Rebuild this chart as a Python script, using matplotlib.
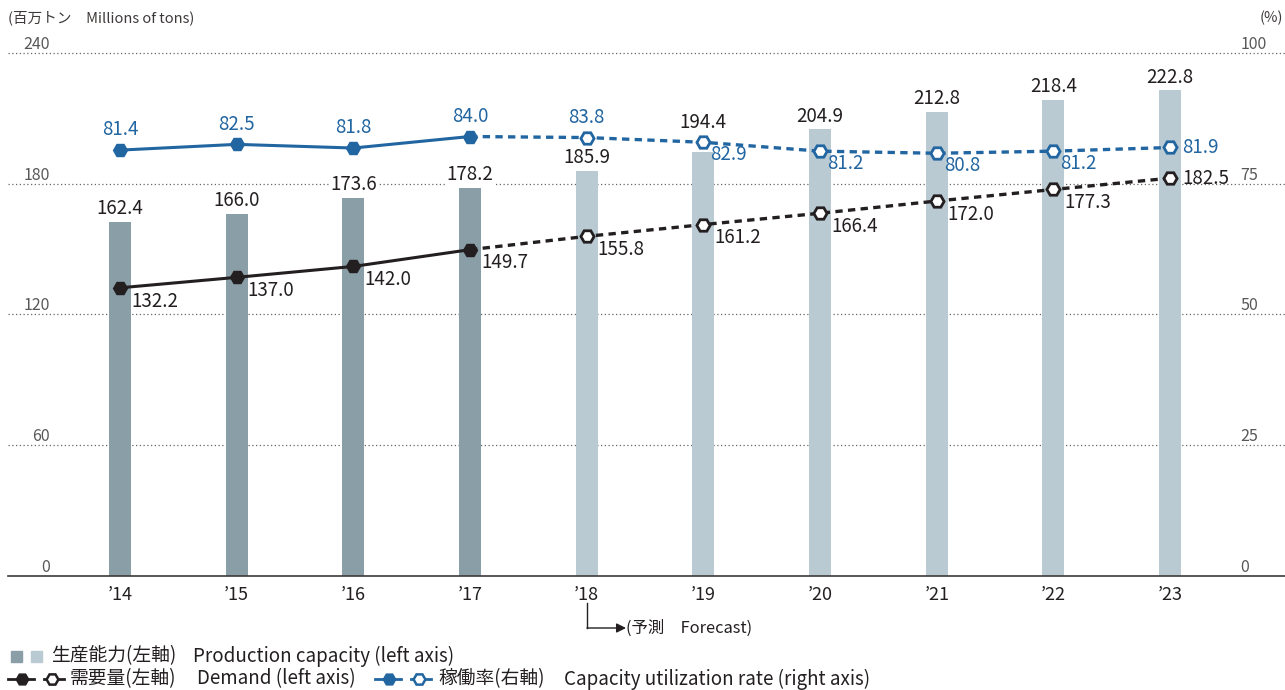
import matplotlib
matplotlib.use("Agg")
import matplotlib.pyplot as plt
from matplotlib.lines import Line2D
from matplotlib.patches import Rectangle, FancyArrowPatch
import matplotlib.transforms as mtransforms

plt.rcParams["font.family"] = ["Noto Sans CJK JP", "DejaVu Sans"]

# data
years = ["’14", "’15", "’16", "’17", "’18", "’19", "’20", "’21", "’22", "’23"]
capacity = [162.4, 166.0, 173.6, 178.2, 185.9, 194.4, 204.9, 212.8, 218.4, 222.8]
demand = [132.2, 137.0, 142.0, 149.7, 155.8, 161.2, 166.4, 172.0, 177.3, 182.5]
util = [81.4, 82.5, 81.8, 84.0, 83.8, 82.9, 81.2, 80.8, 81.2, 81.9]
n_actual = 4  # '14-'17 actual, rest forecast
left_ticks = [0, 60, 120, 180, 240]
right_ticks = [0, 25, 50, 75, 100]

W, H = 1285, 690
dark_bar = "#8a9ea8"
light_bar = "#b9cad3"
blue = "#2165a1"
black = "#231f20"
gray = "#595757"
fs_data = 13.5

fig = plt.figure(figsize=(W / 100, H / 100), dpi=100)


def px(x, y):
    return x / W, 1 - y / H


ax_l, ax_b = 8 / W, (H - 576) / H
ax = fig.add_axes([ax_l, ax_b, 1277 / W, (576 - 40) / H])
ymax = (576 - 40) / 2.18
ax.set_ylim(0, ymax)
ax.set_xlim(-0.96, 9.985)
ax2 = ax.twinx()
ax2.set_ylim(0, ymax / 2.4)

for a in (ax, ax2):
    for s in ("top", "left", "right"):
        a.spines[s].set_visible(False)
    a.set_yticks([])
ax2.spines["bottom"].set_visible(False)
ax.spines["bottom"].set_color("#3e3a39")
ax.spines["bottom"].set_linewidth(1.2)

x = list(range(len(years)))
ax.set_xticks(x, years, fontsize=13, color=black)
ax.tick_params(axis="x", length=0, pad=7)

# gridlines and y tick labels
blend = mtransforms.blended_transform_factory(ax.transAxes, ax.transData)
for t in left_ticks[1:]:
    ax.axhline(t, color="#666", lw=0.9, ls=(0, (1, 2)), zorder=1)
for t in left_ticks:
    ax.text(0.033, t, str(t), transform=blend, ha="right", va="bottom",
            fontsize=11.5, color=gray)
for t in right_ticks:
    ax.text(0.965, t * 2.4, str(t), transform=blend, ha="left", va="bottom",
            fontsize=11.5, color=gray)

# bars
colors = [dark_bar] * n_actual + [light_bar] * (len(years) - n_actual)
ax.bar(x, capacity, width=0.19, color=colors, zorder=2)
box = dict(facecolor="white", edgecolor="none", pad=1)
for xi, v in zip(x, capacity):
    lift = 14 if xi == 5 else 2
    ax.annotate(f"{v:.1f}", (xi, v), xytext=(0, lift), textcoords="offset points",
                ha="center", va="bottom", fontsize=fs_data, color=black,
                bbox=box, zorder=3)

# lines
util_s = [u * 2.4 for u in util]
k = n_actual
for ys, col in ((demand, black), (util_s, blue)):
    ax.plot(x[:k], ys[:k], color=col, lw=2.2, zorder=4)
    ax.plot(x[k - 1:], ys[k - 1:], color=col, lw=2.4, ls=(0, (2.2, 1.6)), zorder=4)
    ax.plot(x[:k], ys[:k], ls="none", marker="H", ms=10, color=col, zorder=5)
    ax.plot(x[k:], ys[k:], ls="none", marker="H", ms=9.5, mfc="white",
            mec=col, mew=2, zorder=5)

for i, v in enumerate(demand):
    if i == len(demand) - 1:
        ax.annotate(f"{v:.1f}", (i, v), xytext=(9, 0), textcoords="offset points",
                    ha="left", va="center", fontsize=fs_data, color=black, zorder=3)
    else:
        ax.annotate(f"{v:.1f}", (i, v), xytext=(8, -2), textcoords="offset points",
                    ha="left", va="top", fontsize=fs_data, color=black, zorder=3)

for i, v in enumerate(util):
    y = util_s[i]
    if i <= 4:
        ax.annotate(f"{v:.1f}", (i, y), xytext=(0, 7), textcoords="offset points",
                    ha="center", va="bottom", fontsize=fs_data, color=blue, zorder=3)
    elif i == len(util) - 1:
        ax.annotate(f"{v:.1f}", (i, y), xytext=(9, 0), textcoords="offset points",
                    ha="left", va="center", fontsize=fs_data, color=blue, zorder=3)
    else:
        ax.annotate(f"{v:.1f}", (i, y), xytext=(5, -1), textcoords="offset points",
                    ha="left", va="top", fontsize=fs_data, color=blue, zorder=3)

# axis titles
fig.text(*px(8, 18), "(百万トン　Millions of tons)", ha="left", va="center",
         fontsize=10.5, color="#3e3a39")
fig.text(*px(1283, 18), "(%)", ha="right", va="center", fontsize=10.5, color="#3e3a39")

# forecast marker
fig.add_artist(Line2D([587 / W, 587 / W], [1 - 603 / H, 1 - 628 / H],
                      color=black, lw=1, transform=fig.transFigure))
fig.add_artist(FancyArrowPatch(px(587, 628), px(626, 628), transform=fig.transFigure,
                               arrowstyle="-|>", mutation_scale=14, color=black, lw=1,
                               shrinkA=0, shrinkB=0))
fig.text(*px(626, 628), "(予測　Forecast)", ha="left", va="center",
         fontsize=11.8, color=black)

# legend
fs_leg = 13.5
for xs, c in ((11, dark_bar), (31, light_bar)):
    fig.add_artist(Rectangle(px(xs, 662), 11 / W, 11 / H, color=c,
                             transform=fig.transFigure))
fig.text(*px(51, 656), "生産能力(左軸)", ha="left", va="center", fontsize=fs_leg, color=black)
fig.text(*px(193, 656), "Production capacity (left axis)", ha="left", va="center",
         fontsize=fs_leg, color=black)


def legend_line(x0, y0, col):
    for a, b in ((x0, x0 + 26), (x0 + 36, x0 + 56)):
        fig.add_artist(Line2D([a / W, b / W], [1 - y0 / H] * 2, color=col, lw=2,
                              transform=fig.transFigure))
    fig.add_artist(Line2D([(x0 + 14) / W], [1 - y0 / H], marker="H", ms=9, color=col,
                          transform=fig.transFigure))
    fig.add_artist(Line2D([(x0 + 44) / W], [1 - y0 / H], marker="H", ms=8.5,
                          mfc="white", mec=col, mew=1.8, transform=fig.transFigure))


legend_line(8, 679, black)
fig.text(*px(70, 679), "需要量(左軸)", ha="left", va="center", fontsize=fs_leg, color=black)
fig.text(*px(197, 679), "Demand (left axis)", ha="left", va="center", fontsize=fs_leg,
         color=black)
legend_line(375, 679, blue)
fig.text(*px(438, 679), "稼働率(右軸)", ha="left", va="center", fontsize=fs_leg, color=black)
fig.text(*px(564, 679), "Capacity utilization rate (right axis)", ha="left",
         va="center", fontsize=fs_leg, color=black)

fig.savefig("out.png", dpi=100)
